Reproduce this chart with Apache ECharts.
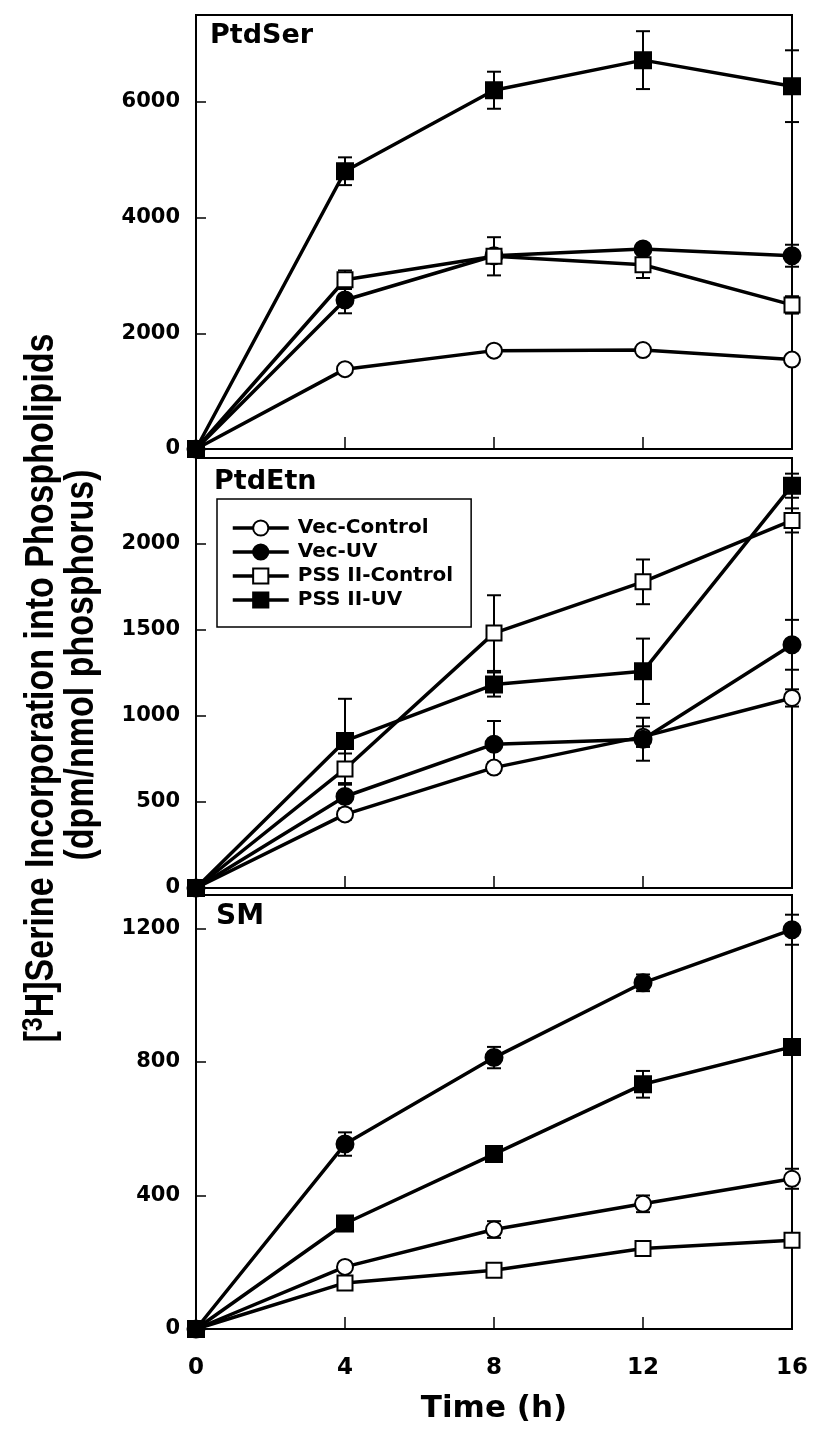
<!DOCTYPE html>
<html>
<head>
<meta charset="utf-8">
<script src="https://cdn.jsdelivr.net/npm/echarts@6/dist/echarts.min.js"></script>
<style>
html,body{margin:0;padding:0;background:#fff;}
#chart{width:815px;height:1431px;}
</style>
</head>
<body>
<div id="chart"></div>
<script>
// ---- data ----
const times = [0, 4, 8, 12, 16];
const groupNames = ['Vec-Control', 'Vec-UV', 'PSS II-Control', 'PSS II-UV'];
const panelNames = ['PtdSer', 'PtdEtn', 'SM'];

// PtdSer
const serVecControl = [0, 1380, 1700, 1710, 1545];
const serVecControlErr = [0, 50, 80, 50, 50];
const serVecUV = [0, 2575, 3340, 3455, 3340];
const serVecUVErr = [0, 230, 100, 80, 190];
const serPssControl = [0, 2925, 3330, 3185, 2490];
const serPssControlErr = [0, 160, 330, 230, 150];
const serPssUV = [0, 4800, 6200, 6720, 6270];
const serPssUVErr = [0, 240, 320, 500, 620];

// PtdEtn
const etnVecControl = [0, 428, 700, 880, 1105];
const etnVecControlErr = [0, 30, 30, 60, 50];
const etnVecUV = [0, 532, 836, 865, 1414];
const etnVecUVErr = [0, 70, 135, 125, 145];
const etnPssControl = [0, 692, 1482, 1780, 2137];
const etnPssControlErr = [0, 90, 220, 130, 70];
const etnPssUV = [0, 855, 1183, 1260, 2339];
const etnPssUVErr = [0, 245, 70, 190, 70];

// SM
const smVecControl = [0, 186, 298, 375, 450];
const smVecControlErr = [0, 10, 25, 25, 30];
const smVecUV = [0, 554, 813, 1037, 1196];
const smVecUVErr = [0, 35, 32, 25, 45];
const smPssControl = [0, 138, 176, 241, 266];
const smPssControlErr = [0, 8, 8, 8, 8];
const smPssUV = [0, 316, 524, 733, 845];
const smPssUVErr = [0, 10, 10, 40, 10];

// axes
const timeTicks = [0, 4, 8, 12, 16];
const serTicks = [0, 2000, 4000, 6000];
const etnTicks = [0, 500, 1000, 1500, 2000];
const smTicks = [0, 400, 800, 1200];
const yMaxes = [7500, 2500, 1300];
const yTitle1 = 'Serine Incorporation into Phospholipids';
const yTitle2 = '(dpm/nmol phosphorus)';
const xTitle = 'Time (h)';

// ---- build ----
const panels = [
  {vals: [serVecControl, serVecUV, serPssControl, serPssUV], errs: [serVecControlErr, serVecUVErr, serPssControlErr, serPssUVErr], ticks: serTicks},
  {vals: [etnVecControl, etnVecUV, etnPssControl, etnPssUV], errs: [etnVecControlErr, etnVecUVErr, etnPssControlErr, etnPssUVErr], ticks: etnTicks},
  {vals: [smVecControl, smVecUV, smPssControl, smPssUV], errs: [smVecControlErr, smVecUVErr, smPssControlErr, smPssUVErr], ticks: smTicks}
];
const grids = [
  {left: 196, width: 596, top: 15, height: 434},
  {left: 196, width: 596, top: 458, height: 430},
  {left: 196, width: 596, top: 895, height: 434}
];
const NUMFONT = 'DejaVu Sans';
const styles = [
  {symbol: 'circle', size: 16, fill: '#fff'},
  {symbol: 'circle', size: 17, fill: '#000'},
  {symbol: 'rect', size: 15, fill: '#fff'},
  {symbol: 'rect', size: 16, fill: '#000'}
];

function errRender(params, api) {
  const x = api.value(0), lo = api.value(1), hi = api.value(2);
  const a = api.coord([x, lo]), b = api.coord([x, hi]);
  const w = 7, st = {stroke: '#000', lineWidth: 2};
  return {type: 'group', children: [
    {type: 'line', shape: {x1: a[0], y1: a[1], x2: b[0], y2: b[1]}, style: st},
    {type: 'line', shape: {x1: a[0] - w, y1: a[1], x2: a[0] + w, y2: a[1]}, style: st},
    {type: 'line', shape: {x1: b[0] - w, y1: b[1], x2: b[0] + w, y2: b[1]}, style: st}
  ]};
}

const xAxes = [], yAxes = [], series = [];
grids.forEach((g, i) => {
  g.show = true; g.borderColor = '#000'; g.borderWidth = 2; g.containLabel = false;
  const last = i === 2;
  xAxes.push({
    gridIndex: i, type: 'value', min: 0, max: 16, interval: 4,
    axisLine: {show: true, onZero: false, lineStyle: {color: '#000', width: 2}},
    axisTick: {show: true, inside: true, length: 12, lineStyle: {color: '#000', width: 1.5}},
    axisLabel: {show: last, margin: 28, color: '#000', fontFamily: NUMFONT, fontWeight: 'bold', fontSize: 23,
      customValues: timeTicks, formatter: v => String(v)},
    splitLine: {show: false},
    name: last ? xTitle : '', nameLocation: 'middle', nameGap: 64,
    nameTextStyle: {color: '#000', fontFamily: NUMFONT, fontWeight: 'bold', fontSize: 31}
  });
  yAxes.push({
    gridIndex: i, type: 'value', min: 0, max: yMaxes[i],
    axisLine: {show: true, onZero: false, lineStyle: {color: '#000', width: 2}},
    axisTick: {show: true, inside: true, length: 10, lineStyle: {color: '#000', width: 1.5}, customValues: panels[i].ticks},
    axisLabel: {show: true, margin: 16, color: '#000', fontFamily: NUMFONT, fontWeight: 'bold', fontSize: 21,
      customValues: panels[i].ticks, formatter: v => String(v)},
    splitLine: {show: false}
  });
  // error bars
  const ebData = [];
  panels[i].vals.forEach((arr, k) => {
    arr.forEach((v, j) => {
      const e = panels[i].errs[k][j];
      if (e > 0) ebData.push([times[j], v - e, v + e]);
    });
  });
  series.push({
    type: 'custom', xAxisIndex: i, yAxisIndex: i, renderItem: errRender, data: ebData,
    clip: false, z: 1, silent: true
  });
  panels[i].vals.forEach((arr, k) => {
    const s = styles[k];
    series.push({
      type: 'line', name: groupNames[k], xAxisIndex: i, yAxisIndex: i,
      data: arr.map((v, j) => [times[j], v]),
      symbol: s.symbol, symbolSize: s.size, showAllSymbol: true, clip: false,
      lineStyle: {color: '#000', width: 3.5},
      itemStyle: {color: s.fill, borderColor: '#000', borderWidth: 2},
      z: 2 + k, animation: false, silent: true
    });
  });
});

const chart = echarts.init(document.getElementById('chart'), null, {renderer: 'canvas'});
chart.setOption({
  backgroundColor: '#fff',
  animation: false,
  grid: grids,
  xAxis: xAxes,
  yAxis: yAxes,
  series: series,
  legend: {
    data: groupNames, orient: 'vertical', left: 217, top: 499,
    itemWidth: 56, itemHeight: 19, itemGap: 4,
    padding: [19, 18, 17, 14],
    borderColor: '#000', borderWidth: 1.5, backgroundColor: '#fff',
    selectedMode: false,
    lineStyle: {width: 3.5},
    textStyle: {color: '#000', fontFamily: NUMFONT, fontWeight: 'bold', fontSize: 20, padding: [0, 0, 0, 4]}
  },
  graphic: [
    {type: 'text', left: 210, top: 22, style: {text: panelNames[0], font: 'bold 27px "DejaVu Sans"', fill: '#000'}},
    {type: 'text', left: 214, top: 468, style: {text: panelNames[1], font: 'bold 27px "DejaVu Sans"', fill: '#000'}},
    {type: 'text', left: 216, top: 903, style: {text: panelNames[2], font: 'bold 28px "DejaVu Sans"', fill: '#000'}},
    {type: 'text', x: 42, y: 688, rotation: Math.PI / 2, scaleY: 1.2,
      style: {
        text: '{n|[}{s|3}{n|H]' + yTitle1 + '}',
        align: 'center', verticalAlign: 'middle', fill: '#000',
        rich: {
          n: {fontFamily: 'Liberation Sans', fontWeight: 'bold', fontSize: 34, lineHeight: 38, fill: '#000'},
          s: {fontFamily: 'Liberation Sans', fontWeight: 'bold', fontSize: 25, lineHeight: 38, verticalAlign: 'top', fill: '#000'}
        }
      }},
    {type: 'text', x: 82, y: 665, rotation: Math.PI / 2, scaleY: 1.2,
      style: {text: yTitle2, font: 'bold 34px "Liberation Sans"', align: 'center', verticalAlign: 'middle', fill: '#000'}}
  ]
});
</script>
</body>
</html>
